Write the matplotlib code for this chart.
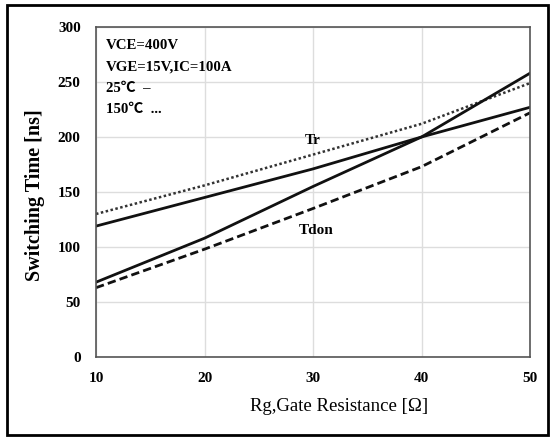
import matplotlib
matplotlib.use('Agg')
import numpy as np
from matplotlib import pyplot as plt
from matplotlib.patches import Rectangle

# 讀圖估計的資料
RG = [10, 20, 30, 40, 50]
TR_25 = [119, 145, 171, 200, 227]
TR_150 = [130, 156, 184, 212, 249]
TDON_25 = [68, 108, 155, 200, 258]
TDON_150 = [63, 98, 135, 173, 222]
X_TICKS = [10, 20, 30, 40, 50]
Y_TICKS = [0, 50, 100, 150, 200, 250, 300]
NOTE_LINES = ['VCE=400V', 'VGE=15V,IC=100A', '25℃  –', '150℃  ...']

SERIF = ['Liberation Serif', 'DejaVu Serif']


def main():
    fig = plt.figure(figsize=(5.52, 4.37), dpi=100)
    ax = fig.add_axes([96 / 552, 1 - 357 / 437, 434 / 552, 330 / 437])

    ax.plot(RG, TR_25, color='#111111', lw=2.0, ls='-')
    ax.plot(RG, TR_150, color='#333333', lw=1.8, ls=(0, (1, 1)))
    ax.plot(RG, TDON_25, color='#111111', lw=2.0, ls='-')
    ax.plot(RG, TDON_150, color='#111111', lw=2.0, ls=(0, (3, 1.5)))

    ax.set_xlim(10, 50)
    ax.set_ylim(0, 300)
    ax.set_xticks(X_TICKS)
    ax.set_yticks(Y_TICKS)
    ax.set_xticklabels([str(t) for t in X_TICKS], fontfamily=SERIF,
                       fontweight='bold', fontsize=11)
    ax.set_yticklabels([str(t) for t in Y_TICKS], fontfamily=SERIF,
                       fontweight='bold', fontsize=11)
    ax.tick_params(axis='x', length=0, pad=11)
    ax.tick_params(axis='y', length=0, pad=11)
    ax.grid(True, color='#dddddd', lw=1.0)
    ax.set_axisbelow(True)
    for s in ax.spines.values():
        s.set_color('#555555')
        s.set_linewidth(1.2)

    ax.set_xlabel('Rg,Gate Resistance [Ω]', fontfamily=SERIF, fontsize=13.5)
    ax.xaxis.set_label_coords(0.56, -0.125)
    ax.set_ylabel('Switching Time [ns]', fontfamily=SERIF, fontweight='bold',
                  fontsize=14.5)
    ax.yaxis.set_label_coords(-0.117, 0.49)

    ax.text(30.0, 197, 'Tr', fontfamily=SERIF, fontweight='bold',
            fontsize=11, ha='center', va='center')
    ax.text(30.3, 115, 'Tdon', fontfamily=SERIF, fontweight='bold',
            fontsize=11, ha='center', va='center')

    for i, line in enumerate(NOTE_LINES):
        ax.text(0.022, 0.945 - i * 0.065, line, transform=ax.transAxes,
                fontfamily=['Liberation Serif', 'Noto Sans CJK SC'],
                fontweight='bold', fontsize=10.7, ha='left', va='center')

    fig.patches.append(Rectangle((7 / 552, 1 - 435 / 437), 541 / 552, 430 / 437,
                                 transform=fig.transFigure, fill=False,
                                 edgecolor='black', lw=2.0))
    fig.savefig('out.png', dpi=100)


if __name__ == '__main__':
    main()
